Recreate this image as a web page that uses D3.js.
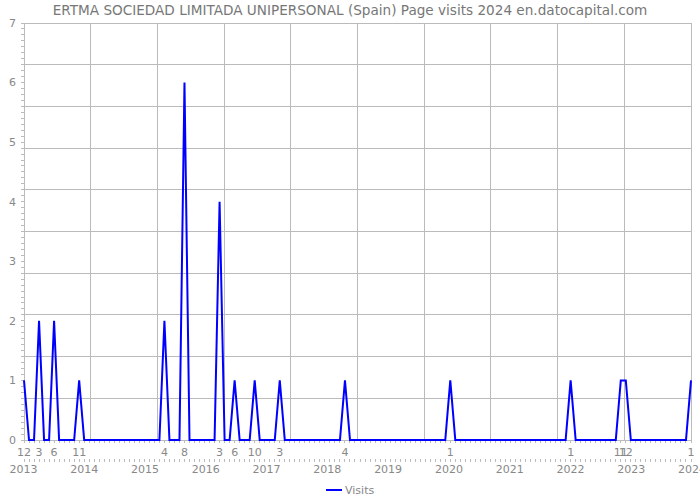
<!DOCTYPE html>
<html><head><meta charset="utf-8">
<script src="https://cdn.jsdelivr.net/npm/d3@7"></script>
<style>body{margin:0;background:#fff}svg{display:block}</style>
</head><body>
<svg id="c" width="700" height="500"></svg>
<script>
const title = "ERTMA SOCIEDAD LIMITADA UNIPERSONAL (Spain) Page visits 2024 en.datocapital.com";
const startMonth = "2012-12";
const endMonth = "2024-01";
const visits2012 = [1];
const visits2013 = [0,0,2,0,0,2,0,0,0,0,1,0];
const visits2014 = [0,0,0,0,0,0,0,0,0,0,0,0];
const visits2015 = [0,0,0,2,0,0,0,6,0,0,0,0];
const visits2016 = [0,0,4,0,0,1,0,0,0,1,0,0];
const visits2017 = [0,0,1,0,0,0,0,0,0,0,0,0];
const visits2018 = [0,0,0,1,0,0,0,0,0,0,0,0];
const visits2019 = [0,0,0,0,0,0,0,0,0,0,0,0];
const visits2020 = [1,0,0,0,0,0,0,0,0,0,0,0];
const visits2021 = [0,0,0,0,0,0,0,0,0,0,0,0];
const visits2022 = [1,0,0,0,0,0,0,0,0,0,1,1];
const visits2023 = [0,0,0,0,0,0,0,0,0,0,0,0];
const visits2024 = [1];
const yearLabels = ["2013","2014","2015","2016","2017","2018","2019","2020","2021","2022","2023","2024"];
const yTicks = [0,1,2,3,4,5,6,7];
const seriesName = "Visits";

const values = [].concat(visits2012,visits2013,visits2014,visits2015,visits2016,visits2017,
  visits2018,visits2019,visits2020,visits2021,visits2022,visits2023,visits2024);
const parse = d3.timeParse("%Y-%m");
const t0 = parse(startMonth), t1 = parse(endMonth);
const months = d3.timeMonth.range(t0, d3.timeMonth.offset(t1,1));
const data = months.map((m,i)=>({date:m, value:values[i]}));

const L=24, R=691, T=23, B=440;
const svg = d3.select("#c");
const font = "DejaVu Sans, sans-serif";
const xi = d3.scaleLinear().domain([0, months.length-1]).range([L,R]);
const y = d3.scaleLinear().domain([0,7]).range([B,T]);
const yr = d3.scaleLinear().domain([0, yearLabels.length-1]).range([23.5,692]);

const grid = "#bbbbbb";
const g = svg.append("g");
d3.range(11).forEach(i=>{
  const gx = L + (R-L)*i/10;
  g.append("line").attr("x1",gx).attr("x2",gx).attr("y1",T).attr("y2",B)
    .attr("stroke",grid).attr("stroke-width",1).attr("shape-rendering","crispEdges");
  const gy = y(0.7*i);
  g.append("line").attr("x1",L).attr("x2",R).attr("y1",gy).attr("y2",gy)
    .attr("stroke",grid).attr("stroke-width",1).attr("shape-rendering","crispEdges");
});

svg.append("line").attr("x1",L).attr("x2",L).attr("y1",T).attr("y2",B)
  .attr("stroke",grid).attr("shape-rendering","crispEdges");
d3.range(0,71).forEach(k=>{
  const v=k/10;
  svg.append("line").attr("x1",L-3).attr("x2",L).attr("y1",y(v)).attr("y2",y(v))
    .attr("stroke",grid).attr("shape-rendering","crispEdges");
});
svg.append("g").selectAll("text").data(yTicks).join("text")
  .attr("x",16).attr("y",d=>y(d)).attr("dy","0.35em").attr("text-anchor","end")
  .attr("font-family",font).attr("font-size",11).attr("fill","#888").text(d=>d);

svg.append("line").attr("x1",L).attr("x2",R).attr("y1",B).attr("y2",B)
  .attr("stroke",grid).attr("shape-rendering","crispEdges");
svg.append("g").selectAll("line").data(months).join("line")
  .attr("x1",(d,i)=>xi(i)).attr("x2",(d,i)=>xi(i)).attr("y1",B).attr("y2",B+3)
  .attr("stroke",grid).attr("shape-rendering","crispEdges");
svg.append("g").selectAll("line").data(months).join("line")
  .attr("x1",(d,i)=>xi(i)).attr("x2",(d,i)=>xi(i)).attr("y1",459).attr("y2",462)
  .attr("stroke",grid).attr("shape-rendering","crispEdges");
svg.append("g").selectAll("text").data(data.map((d,i)=>({...d,i})).filter(d=>d.value>0)).join("text")
  .attr("x",d=>xi(d.i)).attr("y",452).attr("dy","0.35em").attr("text-anchor","middle")
  .attr("font-family",font).attr("font-size",11).attr("fill","#888")
  .text(d=>d.date.getMonth()+1);
svg.append("g").selectAll("text").data(yearLabels).join("text")
  .attr("x",(d,i)=>yr(i)).attr("y",469).attr("dy","0.35em").attr("text-anchor","middle")
  .attr("font-family",font).attr("font-size",11).attr("fill","#888").text(d=>d);

svg.append("path").datum(data)
  .attr("d", d3.line().x((d,i)=>xi(i)).y(d=>y(d.value)))
  .attr("fill","none").attr("stroke","#0000ff").attr("stroke-width",2).attr("stroke-linejoin","miter");

svg.append("text").attr("x",350).attr("y",10).attr("dy","0.35em").attr("text-anchor","middle")
  .attr("font-family",font).attr("font-size",13.6).attr("fill","#777").text(title);

svg.append("line").attr("x1",326).attr("x2",342).attr("y1",490).attr("y2",490)
  .attr("stroke","#0000ff").attr("stroke-width",2);
svg.append("text").attr("x",345).attr("y",490).attr("dy","0.35em")
  .attr("font-family",font).attr("font-size",11).attr("fill","#888").text(seriesName);
</script>
</body></html>
